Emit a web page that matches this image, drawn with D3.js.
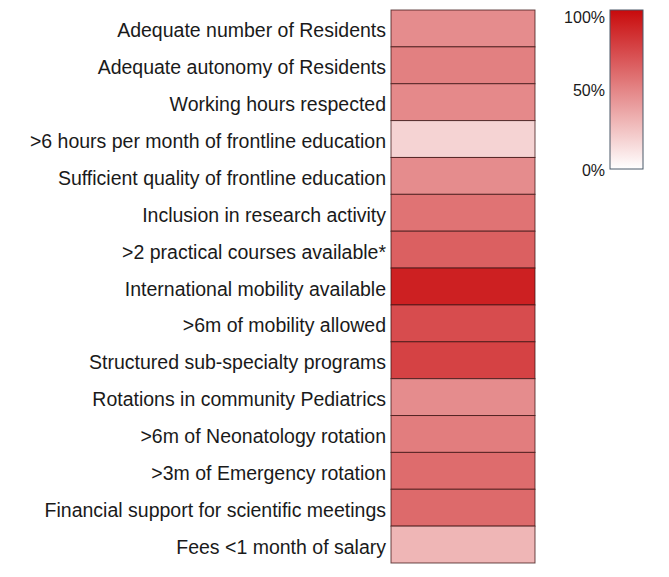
<!DOCTYPE html>
<html>
<head>
<meta charset="utf-8">
<script src="https://cdn.jsdelivr.net/npm/d3@7"></script>
<style>
  html, body { margin: 0; padding: 0; background: #fff; }
  svg { display: block; font-family: "Liberation Sans", Arial, sans-serif; }
</style>
</head>
<body>
<svg id="chart" width="669" height="577"></svg>
<script>
const categories = [
  "Adequate number of Residents",
  "Adequate autonomy of Residents",
  "Working hours respected",
  ">6 hours per month of frontline education",
  "Sufficient quality of frontline education",
  "Inclusion in research activity",
  ">2 practical courses available*",
  "International mobility available",
  ">6m of mobility allowed",
  "Structured sub-specialty programs",
  "Rotations in community Pediatrics",
  ">6m of Neonatology rotation",
  ">3m of Emergency rotation",
  "Financial support for scientific meetings",
  "Fees <1 month of salary"
];
const values = [0.47, 0.52, 0.48, 0.18, 0.47, 0.57, 0.65, 0.91, 0.73, 0.77, 0.47, 0.53, 0.60, 0.61, 0.30];
const legendTicks = [0, 0.5, 1];
const legendLabels = ["0%", "50%", "100%"];

const svg = d3.select("#chart");
const color = d3.scaleLinear().domain([0, 1]).range(["#ffffff", "#c80a0c"]).interpolate(d3.interpolateRgb);

const x0 = 391, x1 = 535, yTop = 10, yBot = 563;
const y = d3.scaleBand().domain(categories).range([yTop, yBot]).padding(0);

const g = svg.append("g");
g.selectAll("rect.cell").data(categories).join("rect")
  .attr("class", "cell")
  .attr("x", x0)
  .attr("y", d => y(d))
  .attr("width", x1 - x0)
  .attr("height", y.bandwidth())
  .attr("fill", (d, i) => color(values[i]))
  .attr("stroke", "#3a1010")
  .attr("stroke-opacity", 0.75)
  .attr("stroke-width", 1);

g.selectAll("text.lab").data(categories).join("text")
  .attr("class", "lab")
  .attr("x", x0 - 5)
  .attr("y", d => y(d) + y.bandwidth() / 2 + 2)
  .attr("text-anchor", "end")
  .attr("dominant-baseline", "central")
  .attr("font-size", 19.5)
  .attr("fill", "#1a1a1a")
  .text(d => d);

// Legend
const lx = 610, lw = 33, lTop = 10, lBot = 169;
const ly = d3.scaleLinear().domain([0, 1]).range([lBot, lTop]);
const defs = svg.append("defs");
const grad = defs.append("linearGradient").attr("id", "lg")
  .attr("x1", 0).attr("y1", 1).attr("x2", 0).attr("y2", 0);
d3.range(0, 1.001, 0.1).forEach(t => {
  grad.append("stop").attr("offset", t).attr("stop-color", color(t));
});
svg.append("rect")
  .attr("x", lx).attr("y", lTop)
  .attr("width", lw).attr("height", lBot - lTop)
  .attr("fill", "url(#lg)")
  .attr("stroke", "#4a5868").attr("stroke-width", 1);

svg.selectAll("text.leg").data(legendTicks).join("text")
  .attr("class", "leg")
  .attr("x", lx - 5)
  .attr("y", (d, i) => ly(d) + (d === 1 ? 7 : 1))
  .attr("text-anchor", "end")
  .attr("dominant-baseline", "central")
  .attr("font-size", 16)
  .attr("fill", "#1a1a1a")
  .text((d, i) => legendLabels[i]);
</script>
</body>
</html>
